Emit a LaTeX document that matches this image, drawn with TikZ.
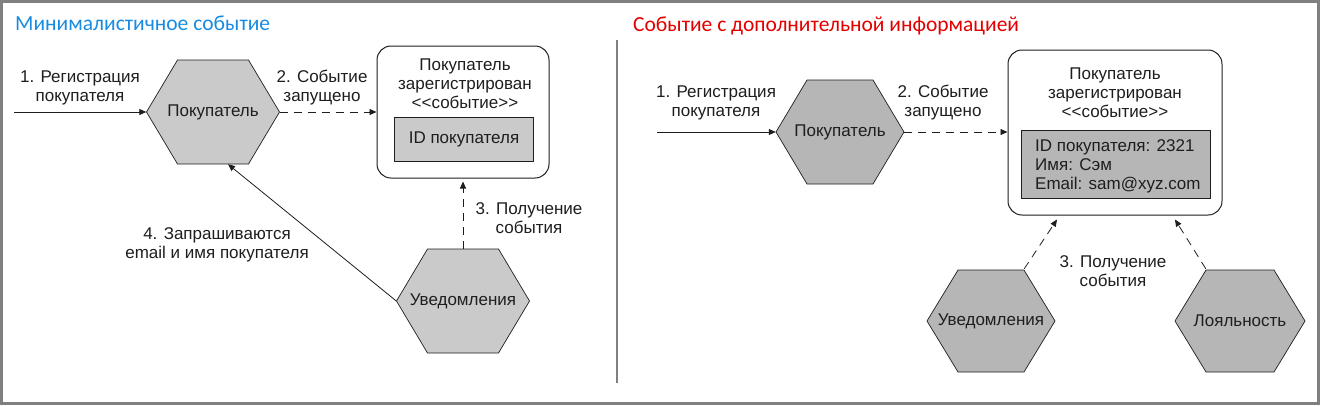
\documentclass[tikz,border=0pt]{standalone}
\usepackage{fontspec}
\setmainfont{Liberation Sans}
\newfontfamily\titlefont{Carlito}
\usetikzlibrary{arrows.meta,calc}
\definecolor{ttlblue}{RGB}{25,140,225}
\definecolor{ttlred}{RGB}{228,0,0}
\definecolor{hexL}{RGB}{202,202,202}
\definecolor{hexR}{RGB}{182,182,182}
\definecolor{framegray}{RGB}{128,128,128}
\definecolor{ink}{RGB}{30,30,30}
% hexagon outline: x, y, half width, half height, fill
\newcommand\hexshape[5]{%
  \filldraw[hexline, fill=#5] (#1-#3,#2) -- (#1-#3+31,#2-#4) -- (#1+#3-31,#2-#4)
    -- (#1+#3,#2) -- (#1+#3-31,#2+#4) -- (#1-#3+31,#2+#4) -- cycle;}
\begin{document}
\begin{tikzpicture}[x=1pt,y=-1pt,
  txt/.style={font=\fontsize{17}{19}\selectfont, text=ink, align=center, inner sep=0},
  ttl/.style={font=\titlefont\fontsize{21.5}{24}\selectfont, anchor=base west, inner sep=0},
  hexnode/.style={txt, minimum width=#1, minimum height=104pt},
  hexline/.style={draw=ink, line width=0.7pt},
  conn/.style={draw=ink, line width=0.8pt, -{Triangle[length=7pt,width=6pt]}},
  dconn/.style={conn, dash pattern=on 8pt off 6pt},
  evbox/.style={draw=ink, line width=1pt, rounded corners=14pt, fill=white, inner sep=0},
  inbox/.style={draw=ink, line width=0.8pt, inner sep=0},
]
\useasboundingbox (0,0) rectangle (1320,405);
\fill[white] (0,0) rectangle (1320,405);
\draw[framegray, line width=2.6pt] (1.3,1.3) rectangle (1318.7,403.7);
\draw[framegray, line width=1.8pt] (617,40) -- (617,383);

% ---------- left panel ----------
\node[ttl, text=ttlblue] (t1) at (15,30) {Минималистичное событие};

\hexshape{213}{112}{66.5}{52}{hexL}
\node[hexnode=133pt] (c1) at (213,112) {Покупатель};
\hexshape{463}{301}{66.5}{52}{hexL}
\node[hexnode=133pt] (n1) at (463,301) {Уведомления};

\node[evbox, minimum width=172pt, minimum height=132pt] (ev1) at (463,112) {};
\node[txt] (ev1t) at (465,84) {Покупатель\\зарегистрирован\\<{}<событие>{}>};
\node[inbox, fill=hexL, minimum width=139pt, minimum height=44pt] (id1) at (464,139) {};
\node[txt] (id1t) at (464,139) {ID покупателя};

\coordinate (in1) at (14,112);
\draw[conn] (in1) -- (c1.west);
\draw[dconn] (c1.east) -- (c1.east -| ev1.west);
\draw[dconn, shorten >=3pt] (n1.north) -- (n1.north |- ev1.south);
\draw[conn] (n1.west) -- ($(c1.south)+(15,0)$);

\node[txt] (l1) at (80,88) {1. Регистрация\\покупателя};
\node[txt] (l2) at (322,88) {2. Событие\\запущено};
\node[txt] (l3) at (529,218) {3. Получение\\события};
\node[txt] (l4) at (217,245) {4. Запрашиваются\\email и имя покупателя};

% ---------- right panel ----------
\node[ttl, text=ttlred] (t2) at (633,31) {Событие с дополнительной информацией};

\hexshape{840}{132}{64}{52}{hexR}
\node[hexnode=128pt] (c2) at (840,132) {Покупатель};
\hexshape{991}{321}{64}{51}{hexR}
\node[hexnode=128pt] (n2) at (991,321) {Уведомления};
\hexshape{1240}{321}{65}{51}{hexR}
\node[hexnode=130pt] (y2) at (1240,321) {Лояльность};

\node[evbox, minimum width=214pt, minimum height=165pt] (ev2) at (1115,132.5) {};
\node[txt] (ev2t) at (1115,93) {Покупатель\\зарегистрирован\\<{}<событие>{}>};
\node[inbox, fill=hexR, minimum width=189pt, minimum height=68pt] (id2) at (1115.5,164) {};
\node[txt, align=left, anchor=west] (id2t) at (1035,166.5) {ID покупателя: 2321\\Имя: Сэм\\Email: sam@xyz.com};

\coordinate (in2) at (657,132);
\coordinate (a1) at ($(ev2.south)+(-58,4)$);
\coordinate (a2) at ($(ev2.south)+(60,4)$);
\draw[conn] (in2) -- (c2.west);
\draw[dconn] (c2.east) -- (c2.east -| ev2.west);
\draw[dconn] ($(n2.north east)+(-31,0)$) -- (a1);
\draw[dconn] ($(y2.north west)+(31,0)$) -- (a2);

\node[txt] (r1) at (716,103) {1. Регистрация\\покупателя};
\node[txt] (r2) at (943,103) {2. Событие\\запущено};
\node[txt] (r3) at (1113,271) {3. Получение\\события};
\end{tikzpicture}
\end{document}
